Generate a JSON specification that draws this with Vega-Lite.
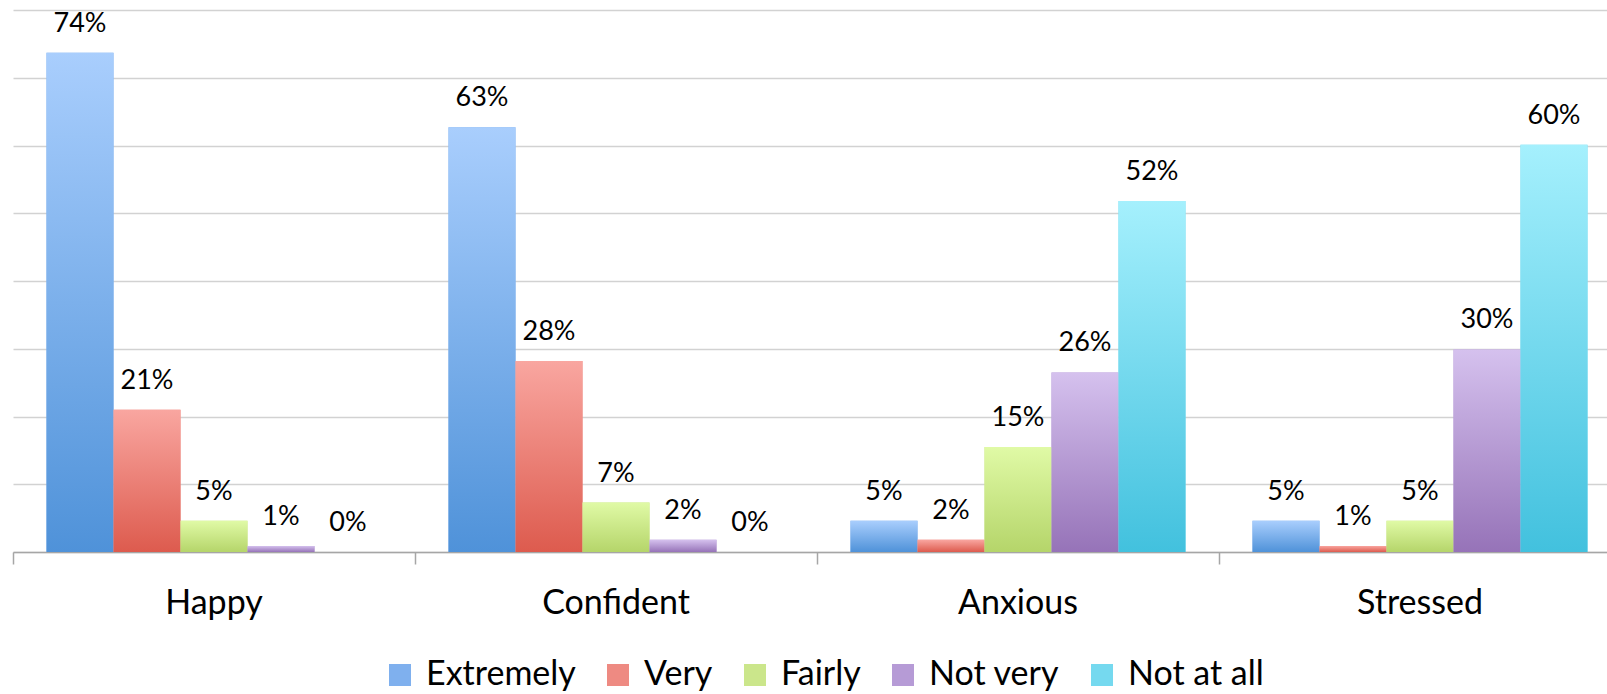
{
  "$schema": "https://vega.github.io/schema/vega-lite/v6.json",
  "width": 1594,
  "height": 542,
  "autosize": {"type": "none"},
  "padding": {"left": 13, "top": 10, "right": 0, "bottom": 142},
  "background": "white",
  "config": {"view": {"stroke": null}, "font": "Lato", "text": {"font": "Lato"}},
  "data": {"values": [
    {"feeling": "Happy", "level": "Extremely", "value": 73.7, "label": "74%"},
    {"feeling": "Happy", "level": "Very", "value": 21.0, "label": "21%"},
    {"feeling": "Happy", "level": "Fairly", "value": 4.6, "label": "5%"},
    {"feeling": "Happy", "level": "Not very", "value": 0.9, "label": "1%"},
    {"feeling": "Happy", "level": "Not at all", "value": 0, "label": "0%"},
    {"feeling": "Confident", "level": "Extremely", "value": 62.7, "label": "63%"},
    {"feeling": "Confident", "level": "Very", "value": 28.2, "label": "28%"},
    {"feeling": "Confident", "level": "Fairly", "value": 7.3, "label": "7%"},
    {"feeling": "Confident", "level": "Not very", "value": 1.8, "label": "2%"},
    {"feeling": "Confident", "level": "Not at all", "value": 0, "label": "0%"},
    {"feeling": "Anxious", "level": "Extremely", "value": 4.6, "label": "5%"},
    {"feeling": "Anxious", "level": "Very", "value": 1.8, "label": "2%"},
    {"feeling": "Anxious", "level": "Fairly", "value": 15.5, "label": "15%"},
    {"feeling": "Anxious", "level": "Not very", "value": 26.5, "label": "26%"},
    {"feeling": "Anxious", "level": "Not at all", "value": 51.8, "label": "52%"},
    {"feeling": "Stressed", "level": "Extremely", "value": 4.6, "label": "5%"},
    {"feeling": "Stressed", "level": "Very", "value": 0.9, "label": "1%"},
    {"feeling": "Stressed", "level": "Fairly", "value": 4.6, "label": "5%"},
    {"feeling": "Stressed", "level": "Not very", "value": 29.9, "label": "30%"},
    {"feeling": "Stressed", "level": "Not at all", "value": 60.1, "label": "60%"}
  ]},
  "encoding": {
    "x": {
      "field": "feeling", "type": "nominal",
      "sort": ["Happy", "Confident", "Anxious", "Stressed"],
      "scale": {"range": [0, 1608], "paddingInner": 0, "paddingOuter": 0},
      "axis": {
        "title": null, "labelAngle": 0, "labelFontSize": 34, "labelColor": "black",
        "labelFont": "Lato", "bandPosition": 0,
        "tickSize": 12, "tickColor": "#a6a6a6", "tickWidth": 1.5,
        "domainColor": "#a6a6a6", "domainWidth": 1.5, "labelPadding": 22,
        "grid": false
      }
    },
    "xOffset": {
      "field": "level", "type": "nominal",
      "sort": ["Extremely", "Very", "Fairly", "Not very", "Not at all"],
      "scale": {"paddingInner": 0, "paddingOuter": 0.5}
    },
    "y": {
      "field": "value", "type": "quantitative",
      "scale": {"domain": [0, 80], "nice": false},
      "axis": {
        "title": null, "labels": false, "ticks": false, "domain": false,
        "values": [0, 10, 20, 30, 40, 50, 60, 70, 80],
        "grid": true, "gridColor": "#d2d2d2", "gridWidth": 1.5
      }
    }
  },
  "layer": [
    {
      "mark": {"type": "bar"},
      "encoding": {
        "color": {
          "field": "level", "type": "nominal",
          "sort": ["Extremely", "Very", "Fairly", "Not very", "Not at all"],
          "scale": {
            "domain": ["Extremely", "Very", "Fairly", "Not very", "Not at all"],
            "range": ["#7fb0ee", "#ee8a82", "#cbe68b", "#b69bd6", "#75d9ef"]
          },
          "legend": {
            "title": null, "orient": "none", "legendX": 370, "legendY": 648,
            "direction": "horizontal", "symbolType": "square", "symbolSize": 484,
            "symbolStrokeWidth": 0, "labelFontSize": 34, "labelFont": "Lato",
            "labelColor": "black", "labelOffset": 9, "columnPadding": 25,
            "labelLimit": 400
          }
        }
      }
    },
    {
      "mark": {"type": "bar"},
      "encoding": {
        "fill": {
          "condition": [
            {"test": "datum.level === 'Extremely'", "value": {"gradient": "linear", "x1": 0, "y1": 0, "x2": 0, "y2": 1, "stops": [{"offset": 0, "color": "#a9cefd"}, {"offset": 1, "color": "#4f92d9"}]}},
            {"test": "datum.level === 'Very'", "value": {"gradient": "linear", "x1": 0, "y1": 0, "x2": 0, "y2": 1, "stops": [{"offset": 0, "color": "#f9a6a0"}, {"offset": 1, "color": "#dd5b4e"}]}},
            {"test": "datum.level === 'Fairly'", "value": {"gradient": "linear", "x1": 0, "y1": 0, "x2": 0, "y2": 1, "stops": [{"offset": 0, "color": "#e0faa6"}, {"offset": 1, "color": "#b5d56a"}]}},
            {"test": "datum.level === 'Not very'", "value": {"gradient": "linear", "x1": 0, "y1": 0, "x2": 0, "y2": 1, "stops": [{"offset": 0, "color": "#d5c1ee"}, {"offset": 1, "color": "#9673b8"}]}}
          ],
          "value": {"gradient": "linear", "x1": 0, "y1": 0, "x2": 0, "y2": 1, "stops": [{"offset": 0, "color": "#a5f0fd"}, {"offset": 1, "color": "#42c1de"}]}
        }
      }
    },
    {
      "mark": {"type": "text", "fontSize": 27, "font": "Lato", "color": "black", "baseline": "alphabetic", "align": "center", "dy": -21},
      "encoding": {"text": {"field": "label"}}
    }
  ]
}
